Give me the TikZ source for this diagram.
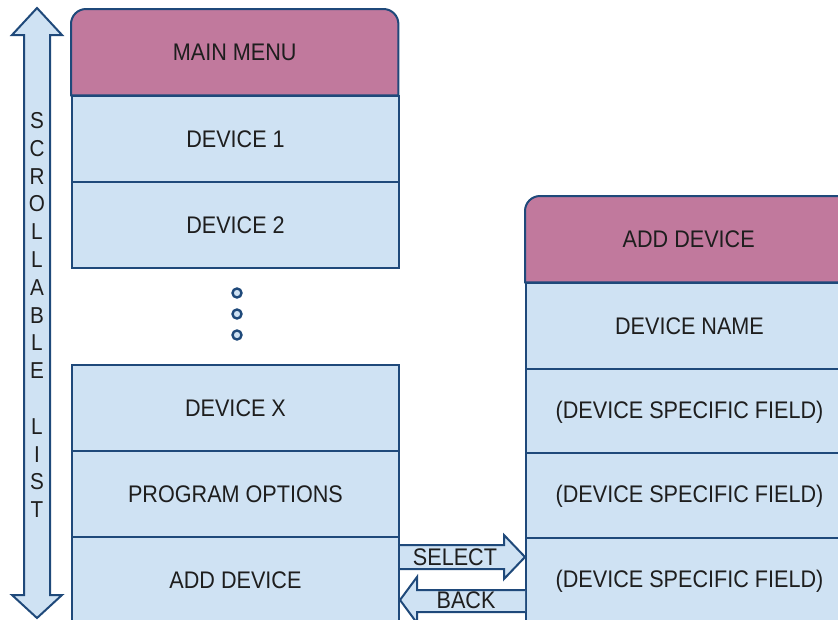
\documentclass[tikz,border=0pt]{standalone}
\usepackage{fontspec}
\setmainfont[FakeStretch=0.9]{Liberation Sans}
\usetikzlibrary{calc}
\definecolor{hdr}{RGB}{193,121,157}
\definecolor{cell}{RGB}{207,226,243}
\definecolor{edge}{RGB}{31,73,122}
\definecolor{ink}{RGB}{30,30,30}
\pgfdeclarelayer{bg}
\pgfsetlayers{bg,main}
\begin{document}
\begin{tikzpicture}[x=1pt,y=-1pt,
  every node/.style={font=\fontsize{24}{28}\selectfont, text=ink},
  row/.style={draw=edge, fill=cell, line width=2pt, minimum width=327pt, minimum height=86pt, inner sep=0pt, anchor=north west},
  hdrtext/.style={minimum width=327pt, minimum height=86pt, inner sep=0pt, anchor=north west},
  hdrshape/.style={draw=edge, fill=hdr, line width=2pt},
  blockarrow/.style={draw=edge, fill=cell, line width=2pt, line join=miter},
  dot/.style={circle, draw=edge, fill=cell, line width=2.4pt, minimum size=9pt, inner sep=0pt},
  scrolltext/.style={align=center, inner sep=0pt, font=\fontsize{23}{27.8}\selectfont}]
\useasboundingbox (0,0) rectangle (838,619);

% scrollable list double arrow
\draw[blockarrow] (37,8) -- (62,35) -- (50,35) -- (50,595) -- (62,595) -- (37,618)
  -- (12,595) -- (24,595) -- (24,35) -- (12,35) -- cycle;
\node[scrolltext] (scroll) at (37,315) {S\\C\\R\\O\\L\\L\\A\\B\\L\\E\\[27.8pt]L\\I\\S\\T};

% left column
\node[hdrtext] (mm) at (71,9) {MAIN MENU};
\node[row] (d1) at (71,95) {DEVICE 1};
\node[row] (d2) at (71,181) {DEVICE 2};
\node[dot] (p1) at (237,293) {};
\node[dot] (p2) at (237,314) {};
\node[dot] (p3) at (237,335) {};
\node[row] (dx) at (71,364) {DEVICE X};
\node[row] (po) at (71,450) {PROGRAM OPTIONS};
\node[row] (ad) at (71,536) {ADD DEVICE};

% right column
\node[hdrtext] (ah) at (525,196) {ADD DEVICE};
\node[row] (dn) at (525,282) {DEVICE NAME};
\node[row] (f1) at (525,368) {(DEVICE SPECIFIC FIELD)};
\node[row] (f2) at (525,452) {(DEVICE SPECIFIC FIELD)};
\node[row] (f3) at (525,537) {(DEVICE SPECIFIC FIELD)};

\begin{pgfonlayer}{bg}
\draw[hdrshape] (mm.south west) [rounded corners=15pt] -- (mm.north west) -- (mm.north east) [sharp corners] -- (mm.south east) -- cycle;
\draw[hdrshape] (ah.south west) [rounded corners=15pt] -- (ah.north west) -- (ah.north east) [sharp corners] -- (ah.south east) -- cycle;
\end{pgfonlayer}

% SELECT / BACK block arrows
\draw[blockarrow] (ad.east |- 0,545) -- (504,545) -- (504,535) -- (f3.west |- 0,557)
  -- (504,579) -- (504,569) -- (ad.east |- 0,569);
\node (sel) at (455,557) {SELECT};
\draw[blockarrow] (f3.west |- 0,590) -- (417,590) -- (417,577) -- (ad.east |- 0,600)
  -- (417,623) -- (417,612) -- (f3.west |- 0,612);
\node (back) at (466,600) {BACK};
\end{tikzpicture}
\end{document}
